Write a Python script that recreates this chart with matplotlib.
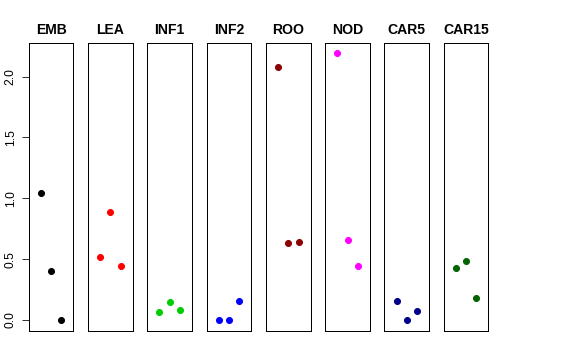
import numpy as np
import matplotlib
matplotlib.use("Agg")
import matplotlib.pyplot as plt

plt.rcParams['font.family'] = ['Liberation Sans', 'DejaVu Sans']

# tissues and their three values each
tissues = ["EMB", "LEA", "INF1", "INF2", "ROO", "NOD", "CAR5", "CAR15"]
colors = ["black", "red", "#00CD00", "blue", "#8B0000", "magenta", "#00008B", "#006400"]
emb = [1.04, 0.40, 0.00]
lea = [0.515, 0.885, 0.44]
inf1 = [0.062, 0.148, 0.082]
inf2 = [0.0, 0.0, 0.159]
roo = [2.076, 0.635, 0.643]
nod = [2.19, 0.657, 0.446]
car5 = [0.156, 0.0, 0.076]
car15 = [0.427, 0.485, 0.178]
values = [emb, lea, inf1, inf2, roo, nod, car5, car15]
yticks = [0.0, 0.5, 1.0, 1.5, 2.0]

W, H = 576, 360
fig = plt.figure(figsize=(W / 72, H / 72), dpi=72)

ymax = max(max(v) for v in values)
ylo, yhi = -0.04 * ymax, ymax * 1.04

left0 = 28.7
step = 59.3
pw = 44.7
top, bot = 42.7, 330.7

for i, (name, col, v) in enumerate(zip(tissues, colors, values)):
    ax = fig.add_axes([(left0 + i * step) / W, (H - bot) / H, pw / W, (bot - top) / H])
    x = np.arange(1, len(v) + 1)
    ax.plot(x, v, 'o', color=col, markersize=6)
    ax.set_xlim(-0.16, 4.16)
    ax.set_ylim(ylo, yhi)
    ax.set_xticks([])
    for s in ax.spines.values():
        s.set_linewidth(1.0)
        s.set_color('black')
    ax.set_title(name, fontsize=14, fontweight='bold', pad=9)
    if i == 0:
        ax.set_yticks(yticks)
        ax.set_yticklabels([f"{t:.1f}" for t in yticks], rotation=90, va='center', fontsize=12)
        ax.tick_params(axis='y', length=7, pad=5)
    else:
        ax.set_yticks([])

fig.savefig("out.png", dpi=72)
